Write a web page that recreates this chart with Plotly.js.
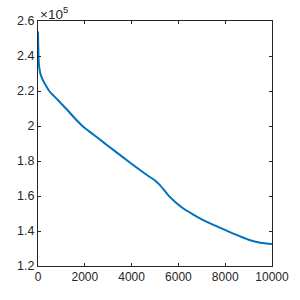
<!DOCTYPE html>
<html>
<head>
<meta charset="utf-8">
<script src="https://cdn.plot.ly/plotly-3.0.1.min.js"></script>
<style>html,body{margin:0;padding:0;background:#fff;}#chart{width:300px;height:300px;}</style>
</head>
<body>
<div id="chart"></div>
<script>
// iteration vs value (values in absolute units)
const xValues = [0, 10, 20, 35, 60, 100, 200, 320, 478, 650, 840, 1050, 1266, 1550, 1900, 2200, 2600, 3000, 3400, 3840, 4300, 4760, 5000, 5190, 5400, 5600, 5900, 6200, 6600, 7000, 7600, 8300, 9000, 9500, 10000];
const yValues = [254000, 247000, 241000, 236000, 233000, 230000, 226500, 223500, 220000, 217500, 215000, 212000, 209000, 204700, 200000, 196800, 192700, 188600, 184500, 180000, 175400, 171000, 168900, 166500, 163200, 159900, 156200, 153000, 149700, 146700, 142900, 138800, 135000, 133300, 132600];
const yTickVals = [120000, 140000, 160000, 180000, 200000, 220000, 240000, 260000];
const yTickText = ['1.2', '1.4', '1.6', '1.8', '2', '2.2', '2.4', '2.6'];
const xTickVals = [0, 2000, 4000, 6000, 8000, 10000];
const xTickText = ['0', '2000', '4000', '6000', '8000', '10000'];
const exponentLabel = '\u00d710<sup>5</sup>';

const axisColor = '#262626';
const fontFamily = 'Liberation Sans, Arial, sans-serif';

const trace = {
  x: xValues,
  y: yValues,
  type: 'scatter',
  mode: 'lines',
  line: {color: '#0072BD', width: 2, shape: 'spline', smoothing: 0.8},
  hoverinfo: 'skip'
};

const layout = {
  width: 300,
  height: 300,
  margin: {l: 38, r: 28, t: 21, b: 34, pad: 0},
  paper_bgcolor: '#ffffff',
  plot_bgcolor: '#ffffff',
  showlegend: false,
  font: {family: fontFamily, size: 12, color: axisColor},
  xaxis: {
    range: [0, 10000],
    tickmode: 'array',
    tickvals: xTickVals,
    ticktext: xTickText,
    ticks: 'inside',
    ticklen: 3,
    tickcolor: axisColor,
    showline: true,
    linecolor: axisColor,
    linewidth: 1,
    mirror: 'ticks',
    showgrid: false,
    zeroline: false,
    tickfont: {family: fontFamily, size: 12, color: axisColor}
  },
  yaxis: {
    range: [120000, 260000],
    tickmode: 'array',
    tickvals: yTickVals,
    ticktext: yTickText,
    ticks: 'inside',
    ticklen: 3,
    tickcolor: axisColor,
    showline: true,
    linecolor: axisColor,
    linewidth: 1,
    mirror: 'ticks',
    showgrid: false,
    zeroline: false,
    tickfont: {family: fontFamily, size: 12.5, color: axisColor}
  },
  annotations: [{
    text: exponentLabel,
    xref: 'paper', yref: 'paper',
    x: 0, y: 1,
    xanchor: 'left', yanchor: 'bottom',
    showarrow: false,
    font: {family: fontFamily, size: 13.5, color: axisColor},
    xshift: 0, yshift: -3
  }]
};

Plotly.newPlot('chart', [trace], layout, {staticPlot: true, displayModeBar: false});
</script>
</body>
</html>
